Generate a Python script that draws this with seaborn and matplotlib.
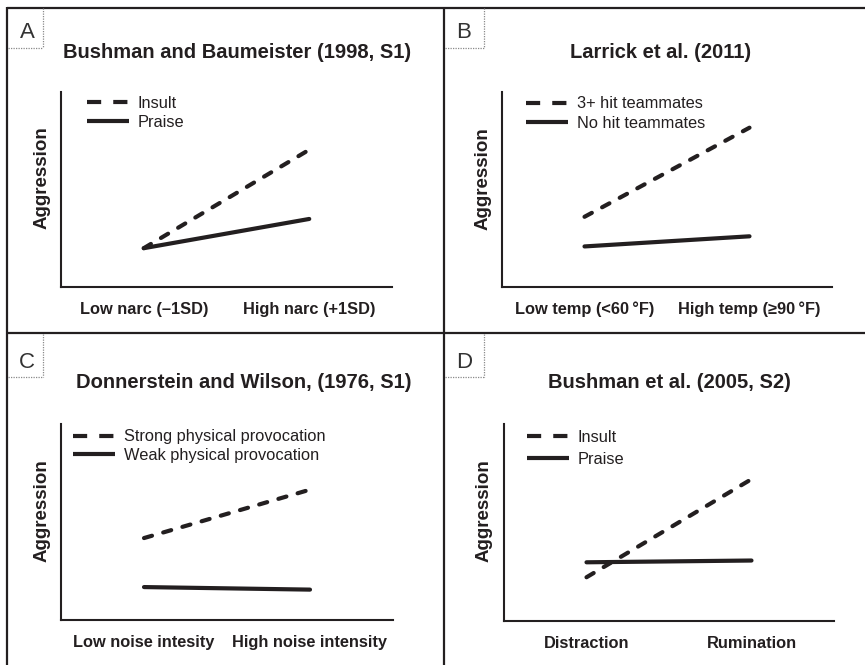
import numpy as np
import pandas as pd
import matplotlib
matplotlib.use("Agg")
import matplotlib.pyplot as plt
from matplotlib.lines import Line2D
import seaborn as sns

# ---------------- data ----------------
panel_letters = ["A", "B", "C", "D"]
panel_titles = ["Bushman and Baumeister (1998, S1)", "Larrick et al. (2011)",
                "Donnerstein and Wilson, (1976, S1)", "Bushman et al. (2005, S2)"]
y_label = "Aggression"

a_x = ["Low narc (\u20131SD)", "High narc (+1SD)"]
a_groups = ["Insult", "Praise"]
a_dashed = [1.99, 7.04]
a_solid = [1.99, 3.49]

b_x = ["Low temp (<60\u2009\u00b0F)", "High temp (\u226590\u2009\u00b0F)"]
b_groups = ["3+ hit teammates", "No hit teammates"]
b_dashed = [3.6, 8.17]
b_solid = [2.08, 2.6]

c_x = ["Low noise intesity", "High noise intensity"]
c_groups = ["Strong physical provocation", "Weak physical provocation"]
c_dashed = [4.18, 6.65]
c_solid = [1.68, 1.55]

d_x = ["Distraction", "Rumination"]
d_groups = ["Insult", "Praise"]
d_dashed = [2.22, 7.2]
d_solid = [2.98, 3.07]

# ---------------- style ----------------
sns.set_theme(style="white")
plt.rcParams["font.family"] = ["Liberation Sans", "DejaVu Sans"]
INK = "#231f20"

W, H = 865, 665
fig = plt.figure(figsize=(W / 100, H / 100), dpi=100)
fig.patch.set_facecolor("white")


def fx(x):
    return x / W


def fy(y):
    return 1 - y / H


panels = [
    dict(x=a_x, groups=a_groups, dashed=a_dashed, solid=a_solid,
         rect=(61, 92, 392, 287), title=(237, 58.3), letter=(27, 38),
         ylab=(42, 178), leg=(87, 95.5, 0.28)),
    dict(x=b_x, groups=b_groups, dashed=b_dashed, solid=b_solid,
         rect=(502, 92, 832, 287), title=(661, 58.3), letter=(463.5, 38),
         ylab=(483, 179), leg=(526, 96.5, 0.28)),
    dict(x=c_x, groups=c_groups, dashed=c_dashed, solid=c_solid,
         rect=(61, 424, 393, 620), title=(244, 388.3), letter=(27, 368),
         ylab=(42, 511), leg=(73, 429.5, 0.22)),
    dict(x=d_x, groups=d_groups, dashed=d_dashed, solid=d_solid,
         rect=(504, 424, 834, 621), title=(669, 388.3), letter=(464.5, 368),
         ylab=(484, 511), leg=(527, 430, 0.4)),
]

DASH = (2.0, 2.8)

for i, p in enumerate(panels):
    x0, y0, x1, y1 = p["rect"]
    ax = fig.add_axes([fx(x0), fy(y1), (x1 - x0) / W, (y1 - y0) / H])
    df = pd.DataFrame({
        "cond": p["x"] * 2,
        "aggr": list(p["dashed"]) + list(p["solid"]),
        "group": [p["groups"][0]] * 2 + [p["groups"][1]] * 2,
    })
    sns.lineplot(data=df, x="cond", y="aggr", style="group",
                 style_order=p["groups"],
                 dashes={p["groups"][0]: DASH, p["groups"][1]: ""},
                 color=INK, linewidth=3, legend=False, sort=False,
                 estimator=None, ax=ax)
    for ln in ax.lines:
        ln.set_dash_capstyle("round")
        ln.set_solid_capstyle("round")
    ax.set_xlim(-0.5, 1.5)
    ax.set_ylim(0, 10)
    ax.set_xlabel("")
    ax.set_ylabel("")
    ax.set_yticks([])
    ax.set_xticks([0, 1])
    ax.set_xticklabels(p["x"], fontsize=11.8, fontweight="bold", color=INK)
    ax.tick_params(axis="x", length=0, pad=10.5)
    for s in ["top", "right"]:
        ax.spines[s].set_visible(False)
    for s in ["left", "bottom"]:
        ax.spines[s].set_color(INK)
        ax.spines[s].set_linewidth(1.5)
    ax.patch.set_alpha(0)

    # legend
    handles = [
        Line2D([], [], color=INK, lw=3, dashes=(3.4, 2.9), dash_capstyle="butt"),
        Line2D([], [], color=INK, lw=3, solid_capstyle="butt"),
    ]
    lx, ly, ls = p["leg"]
    ax.legend(handles, p["groups"], loc="upper left",
              bbox_to_anchor=(fx(lx), fy(ly)), bbox_transform=fig.transFigure,
              frameon=False, borderpad=0, borderaxespad=0,
              handlelength=2.55, handletextpad=0.55, labelspacing=ls,
              prop={"size": 11.8}, labelcolor=INK)

    # title, panel letter, y label
    tx, tyb = p["title"]
    fig.text(fx(tx), fy(tyb), panel_titles[i], ha="center", va="baseline",
             fontsize=14.5, fontweight="bold", color=INK)
    lx2, ly2 = p["letter"]
    fig.text(fx(lx2), fy(ly2), panel_letters[i], ha="center", va="baseline",
             fontsize=16, color="#333333")
    yx, yy = p["ylab"]
    fig.text(fx(yx), fy(yy), y_label, ha="center", va="center", rotation=90,
             fontsize=13.5, fontweight="bold", color=INK)

# ---------------- frame lines ----------------
def fline(xs, ys, **kw):
    fig.add_artist(Line2D([fx(v) for v in xs], [fy(v) for v in ys],
                          transform=fig.transFigure, **kw))


frame_kw = dict(color=INK, lw=1.6, solid_capstyle="butt")
fline([7, W], [7.5, 7.5], **frame_kw)
fline([7.5, 7.5], [7, H], **frame_kw)
fline([444, 444], [7, H], **frame_kw)
fline([7, W], [333, 333], **frame_kw)

dot_kw = dict(color="#8a8a8a", lw=0.9, linestyle=(0, (1, 1)))
for (xl, xr, yt, yb) in [(8, 43, 8, 48), (445, 484, 8, 48),
                         (8, 43, 334, 377), (445, 484, 334, 377)]:
    fline([xr, xr], [yt, yb], **dot_kw)
    fline([xl, xr], [yb, yb], **dot_kw)

fig.savefig("out.png", dpi=100, facecolor="white")
